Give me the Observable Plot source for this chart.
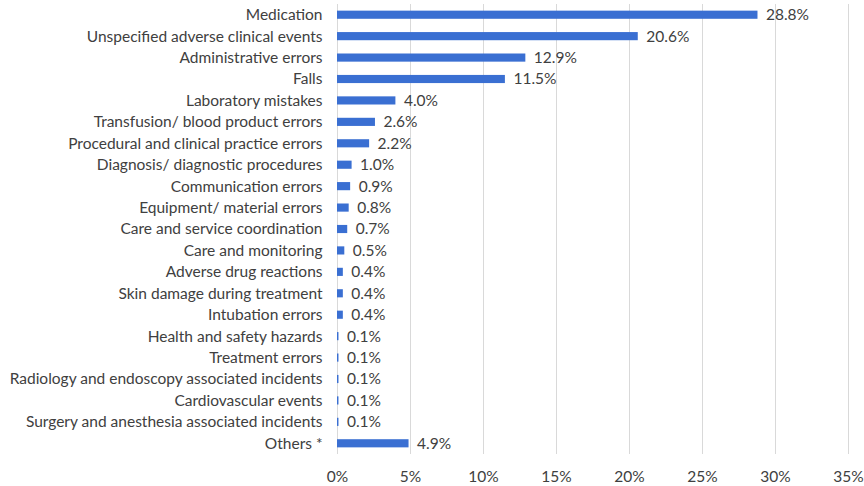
<!DOCTYPE html>
<html><head><meta charset="utf-8">
<script src="https://cdn.jsdelivr.net/npm/d3@7"></script>
<script src="https://cdn.jsdelivr.net/npm/@observablehq/plot@0.6"></script>
<style>
html,body{margin:0;padding:0;background:#fff;}
</style>
</head><body>
<div id="chart"></div>
<script>
const categories = [
  "Medication",
  "Unspecified adverse clinical events",
  "Administrative errors",
  "Falls",
  "Laboratory mistakes",
  "Transfusion/ blood product errors",
  "Procedural and clinical practice errors",
  "Diagnosis/ diagnostic procedures",
  "Communication errors",
  "Equipment/ material errors",
  "Care and service coordination",
  "Care and monitoring",
  "Adverse drug reactions",
  "Skin damage during treatment",
  "Intubation errors",
  "Health and safety hazards",
  "Treatment errors",
  "Radiology and endoscopy associated incidents",
  "Cardiovascular events",
  "Surgery and anesthesia associated incidents",
  "Others *"
];
const values = [28.8, 20.6, 12.9, 11.5, 4.0, 2.6, 2.2, 1.0, 0.9, 0.8, 0.7, 0.5, 0.4, 0.4, 0.4, 0.1, 0.1, 0.1, 0.1, 0.1, 4.9];
const xTicks = [0, 5, 10, 15, 20, 25, 30, 35];

const data = categories.map((c, i) => ({category: c, value: values[i]}));

const chart = Plot.plot({
  width: 864,
  height: 486,
  marginLeft: 337,
  marginRight: 16,
  marginTop: 4,
  marginBottom: 32,
  style: {fontFamily: "Lato, 'Open Sans', sans-serif", fontSize: "15.5px", color: "#404040", background: "#fff"},
  x: {domain: [0, 35], ticks: xTicks, tickFormat: d => d + "%", label: null, grid: false},
  y: {domain: categories, label: null, range: [4, 454], round: false, paddingInner: 0.62, paddingOuter: 0.31},
  marks: [
    Plot.ruleX(xTicks, {stroke: "#d9d9d9", strokeWidth: 1, strokeOpacity: 1}),
    Plot.barX(data, {x: "value", y: "category", fill: "#3a6fd2"}),
    Plot.text(data, {x: "value", y: "category", text: d => d.value.toFixed(1) + "%", textAnchor: "start", dx: 8, fill: "#404040", fontSize: 15.5}),
    Plot.axisX({ticks: xTicks, tickFormat: d => d + "%", tickSize: 0, tickPadding: 16, fontSize: 15.5, fill: "#404040"}),
    Plot.axisY({tickSize: 0, tickPadding: 15, fontSize: 15.5, fill: "#404040"})
  ]
});
document.getElementById("chart").appendChild(chart);
</script>
</body></html>
